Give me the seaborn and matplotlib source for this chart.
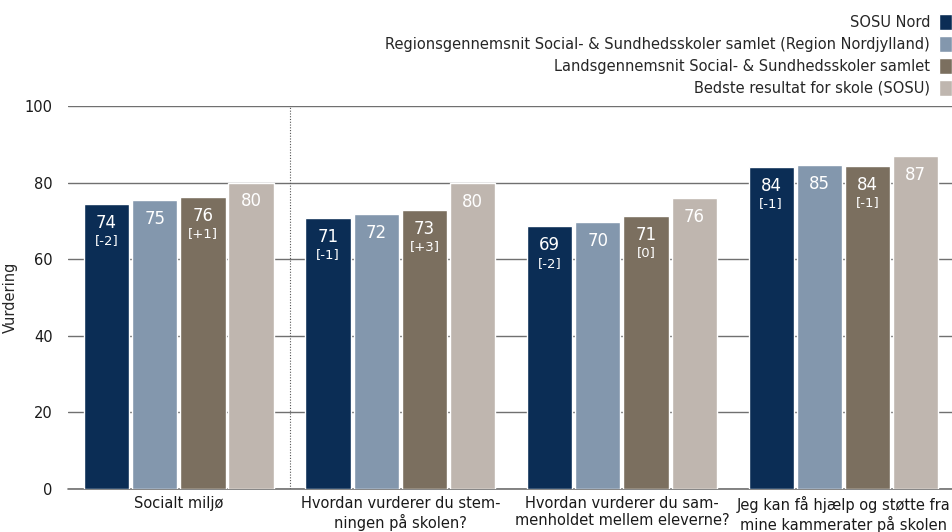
import matplotlib
matplotlib.use("Agg")
import matplotlib.pyplot as plt
import seaborn as sns
import pandas as pd

# data
questions = ["Socialt miljø",
             "Hvordan vurderer du stem-\nningen på skolen?",
             "Hvordan vurderer du sam-\nmenholdet mellem eleverne?",
             "Jeg kan få hjælp og støtte fra\nmine kammerater på skolen"]
series = ["SOSU Nord",
          "Regionsgennemsnit Social- & Sundhedsskoler samlet (Region Nordjylland)",
          "Landsgennemsnit Social- & Sundhedsskoler samlet",
          "Bedste resultat for skole (SOSU)"]
sosu_nord = [74.4, 70.8, 68.6, 84.1]
region = [75.4, 71.8, 69.7, 84.6]
lands = [76.3, 72.8, 71.3, 84.3]
bedste = [80.0, 79.8, 76.0, 86.9]
# change labels ([+/-]) shown under the value, None = no label
sosu_change = ["[-2]", "[-1]", "[-2]", "[-1]"]
region_change = [None, None, None, None]
lands_change = ["[+1]", "[+3]", "[0]", "[-1]"]
bedste_change = [None, None, None, None]

colors = ["#0b2d55", "#8397ad", "#7b6f5f", "#bfb6af"]

rows = []
for s, vals in zip(series, [sosu_nord, region, lands, bedste]):
    for q, v in zip(questions, vals):
        rows.append({"question": q, "series": s, "value": v})
df = pd.DataFrame(rows)

sns.set_style("white")
plt.rcParams['font.family'] = ['Liberation Sans Narrow', 'DejaVu Sans']

fig = plt.figure(figsize=(9.52, 5.32), dpi=100)
ax = fig.add_axes([0.0714, 0.0808, 0.931, 0.72])

sns.barplot(data=df, x="question", y="value", hue="series", order=questions,
            hue_order=series, palette=colors, width=0.87, gap=0.06,
            saturation=1, ax=ax, errorbar=None, legend=True)

ax.set_ylim(0, 100)
ax.set_xlim(-0.5, 3.5)
ax.set_yticks([0, 20, 40, 60, 80, 100])
ax.yaxis.grid(True, color="#707070", linewidth=1)
ax.set_axisbelow(True)
ax.axhline(0, color="#707070", linewidth=1.2, clip_on=False, zorder=0.5)
for sp in ax.spines.values():
    sp.set_visible(False)
ax.tick_params(axis="both", length=0, labelsize=10.5, colors="#1a1a1a")
ax.tick_params(axis="y", pad=11)
ax.tick_params(axis="x", pad=5)
ax.set_xlabel("")
ax.set_ylabel("Vurdering", fontsize=10.5)
ax.yaxis.set_label_coords(-0.057, 0.5)

# dotted separator between first and remaining questions
ax.axvline(0.5, color="#555555", linestyle=(0, (1, 1.5)), linewidth=0.8)

changes = [sosu_change, region_change, lands_change, bedste_change]
for cont, vals, chg in zip(ax.containers, [sosu_nord, region, lands, bedste], changes):
    for bar, v, c in zip(cont, vals, chg):
        xc = bar.get_x() + bar.get_width() / 2
        ax.annotate(f"{v:.0f}", (xc, v), xytext=(0, -13.5), textcoords="offset points",
                    ha="center", va="center", color="white", fontsize=12)
        if c:
            ax.annotate(c, (xc, v), xytext=(0, -26.5), textcoords="offset points",
                        ha="center", va="center", color="white", fontsize=9.5)

handles, labels = ax.get_legend_handles_labels()
ax.legend_.remove()
fig.legend(handles, labels, loc="upper right", bbox_to_anchor=(1.006, 0.985),
           markerfirst=False, frameon=False, fontsize=10.5, handlelength=0.9,
           handleheight=1.3, handletextpad=0.6, labelspacing=0.42,
           borderaxespad=0)

fig.savefig("out.png", dpi=100)
